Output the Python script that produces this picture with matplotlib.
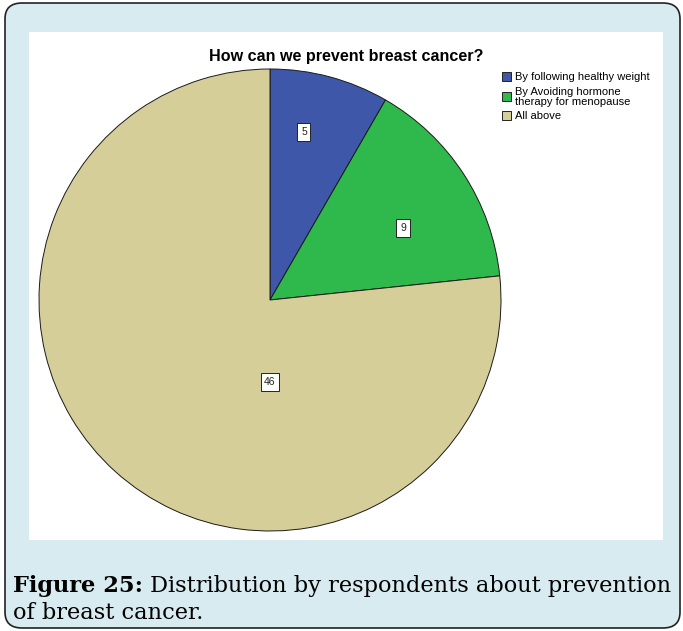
import matplotlib
matplotlib.use("Agg")
import matplotlib.pyplot as plt
from matplotlib.patches import FancyBboxPatch, Rectangle, Patch

categories = ["By following healthy weight",
              "By Avoiding hormone\ntherapy for menopause",
              "All above"]
counts = [5, 9, 46]
colors = ["#3e57a9", "#2fb84b", "#d5ce98"]
title = "How can we prevent breast cancer?"
caption_bold = "Figure 25:"
caption_rest = " Distribution by respondents about prevention"
caption_line2 = "of breast cancer."

W, H = 683, 631
fig = plt.figure(figsize=(W / 100, H / 100), dpi=100)
fig.patch.set_facecolor("white")

def fx(px):
    return px / W

def fy(py):
    return 1 - py / H

# rounded light-blue panel
panel = FancyBboxPatch((fx(5), fy(628)), fx(675), 625 / H,
                       boxstyle="round,pad=0,rounding_size=0.025",
                       transform=fig.transFigure, facecolor="#d8ebf0",
                       edgecolor="#222222", linewidth=1.2, zorder=0)
fig.patches.append(panel)
# white chart area
fig.patches.append(Rectangle((fx(29), fy(540)), fx(634), 508 / H,
                             transform=fig.transFigure, facecolor="white",
                             edgecolor="none", zorder=0.5))

# pie axes
cx, cy, r = 270, 300, 231
ax = fig.add_axes([fx(cx - r), fy(cy + r), fx(2 * r), 2 * r / H])
ax.set_zorder(2)
ax.pie(counts, colors=colors, startangle=90, counterclock=False,
       wedgeprops=dict(edgecolor="#1a1a1a", linewidth=0.7))
ax.set_xlim(-1, 1)
ax.set_ylim(-1, 1)
ax.set_aspect("auto")
ax.axis("off")

label_pos = [(0.147, 0.727), (0.576, 0.312), (0.0, -0.355)]
for v, (x, y) in zip(counts, label_pos):
    ax.text(x, y, str(v), ha="center", va="center", fontsize=7.5,
            family="Liberation Sans", color="#222222",
            bbox=dict(boxstyle="square,pad=0.35", facecolor="white",
                      edgecolor="#222222", linewidth=0.7))

fig.text(fx(346), fy(57), title, ha="center", va="center", fontsize=11.6,
         fontweight="bold", family="Liberation Sans", zorder=3)

handles = [Patch(facecolor=c, edgecolor="#222222", linewidth=0.7) for c in colors]
leg = fig.legend(handles, categories, loc="upper left",
                 bbox_to_anchor=(fx(502), fy(72)), frameon=False,
                 prop=dict(family="Liberation Sans", size=8.0),
                 handlelength=0.85, handleheight=0.85, handletextpad=0.3,
                 labelspacing=0.4, borderpad=0, borderaxespad=0)
for t in leg.get_texts():
    t.set_linespacing(1.0)
leg.set_zorder(3)

# caption, sized so the first line spans the panel width
serif = "DejaVu Serif"
size = 14
t1 = fig.text(fx(13), fy(592), caption_bold, ha="left", va="baseline",
              fontsize=size, fontweight="bold", family=serif)
t2 = fig.text(0, fy(592), caption_rest, ha="left", va="baseline",
              fontsize=size, family=serif)
fig.canvas.draw()
r_ = fig.canvas.get_renderer()
total = t1.get_window_extent(r_).width + t2.get_window_extent(r_).width
size = size * 663 / total
t1.set_fontsize(size)
t2.set_fontsize(size)
fig.canvas.draw()
t2.set_x(t1.get_window_extent(r_).x1 / W)
fig.text(fx(13), fy(619), caption_line2, ha="left", va="baseline",
         fontsize=size, family=serif)

fig.savefig("out.png", dpi=100)
